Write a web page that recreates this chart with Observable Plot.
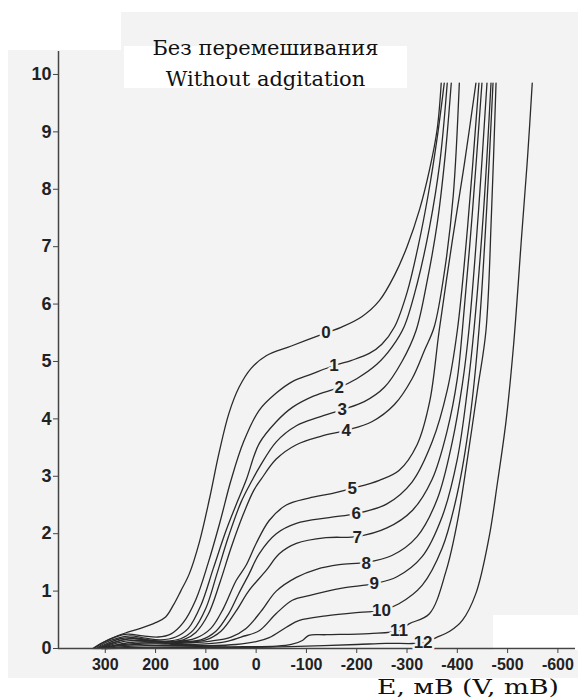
<!DOCTYPE html>
<html><head><meta charset="utf-8">
<script src="https://cdn.jsdelivr.net/npm/d3@7"></script>
<script src="https://cdn.jsdelivr.net/npm/@observablehq/plot@0.6"></script>
<style>
body{margin:0;background:#fff;}
#wrap{position:relative;width:578px;height:699px;overflow:hidden;background:#fff;}
.blk{position:absolute;}
.ttl{position:absolute;font-family:"DejaVu Serif",serif;font-size:21px;color:#111;white-space:nowrap;text-align:center;}
#chart{position:absolute;left:0;top:0;}
</style></head>
<body>
<div id="wrap">
  <div class="blk" style="left:8px;top:12px;width:570px;height:666px;background:#f3f3f3"></div>
  <div class="blk" style="left:0;top:0;width:121px;height:50px;background:#fff"></div>
  <div class="blk" style="left:124px;top:46px;width:283px;height:42px;background:#fff"></div>
  <div class="blk" style="left:493px;top:615px;width:85px;height:35px;background:#fff"></div>
  <div id="chart"></div>
  <div class="ttl" style="left:124px;width:283px;top:36px">Без перемешивания</div>
  <div class="ttl" style="left:124px;width:283px;top:67px">Without adgitation</div>
  <div class="ttl" style="left:368px;width:200px;top:677px;line-height:20px;font-size:20px;transform:scaleX(1.33);transform-origin:center">E, мВ (V, mB)</div>
</div>
<script>
// E (mV), current value
const curve0 = [[325,0],[310,0.08],[290,0.17],[260,0.27],[230,0.35],[200,0.45],[180,0.55],[165,0.75],[150,1.0],[133,1.3],[113,1.85],[93,2.6],[74,3.4],[54,4.1],[34,4.55],[10,4.88],[-20,5.1],[-70,5.27],[-139,5.5],[-170,5.6],[-210,5.78],[-245,6.06],[-275,6.5],[-300,7.0],[-325,7.65],[-345,8.35],[-360,9.05],[-368,9.85]];
const curve1 = [[322,0],[305,0.1],[280,0.2],[255,0.25],[225,0.22],[195,0.2],[170,0.25],[145,0.45],[120,0.85],[95,1.5],[72,2.2],[50,2.93],[25,3.6],[-6,4.15],[-40,4.45],[-72,4.65],[-110,4.78],[-155,4.93],[-190,5.02],[-225,5.14],[-250,5.3],[-275,5.6],[-300,6.2],[-322,7.0],[-342,7.9],[-360,8.9],[-374,9.85]];
const curve2 = [[318,0],[300,0.1],[275,0.18],[250,0.22],[220,0.18],[190,0.15],[160,0.2],[135,0.35],[110,0.75],[85,1.4],[60,2.05],[40,2.5],[20,2.93],[-6,3.57],[-40,3.95],[-72,4.2],[-115,4.4],[-165,4.55],[-200,4.7],[-240,4.95],[-270,5.25],[-294,5.6],[-320,6.35],[-345,7.35],[-365,8.45],[-380,9.85]];
const curve3 = [[316,0],[298,0.08],[270,0.17],[245,0.19],[215,0.15],[180,0.13],[150,0.17],[125,0.32],[100,0.7],[78,1.3],[55,1.95],[30,2.55],[8,2.93],[-6,3.15],[-40,3.6],[-80,3.88],[-125,4.03],[-171,4.16],[-215,4.3],[-255,4.55],[-290,5.0],[-318,5.54],[-340,6.4],[-360,7.4],[-376,8.6],[-388,9.85]];
const curve4 = [[314,0],[295,0.07],[265,0.15],[240,0.17],[210,0.13],[175,0.12],[145,0.15],[120,0.28],[95,0.6],[72,1.15],[50,1.75],[25,2.35],[5,2.75],[-10,2.95],[-40,3.3],[-80,3.55],[-130,3.7],[-179,3.8],[-230,3.95],[-275,4.25],[-310,4.7],[-335,5.2],[-354,5.6],[-375,6.6],[-392,7.9],[-404,9.85]];
const curve5 = [[312,0],[295,0.06],[265,0.15],[235,0.17],[200,0.13],[160,0.12],[120,0.18],[90,0.35],[65,0.7],[40,1.18],[20,1.45],[0,1.83],[-26,2.23],[-60,2.5],[-105,2.62],[-150,2.7],[-191,2.79],[-245,2.93],[-284,3.1],[-320,3.55],[-345,4.3],[-364,5.54],[-390,7.1],[-415,8.5],[-437,9.85]];
const curve6 = [[310,0],[290,0.06],[260,0.13],[230,0.14],[190,0.12],[150,0.12],[110,0.15],[80,0.3],[55,0.6],[35,0.95],[14,1.3],[-6,1.65],[-40,2.0],[-80,2.18],[-145,2.28],[-199,2.35],[-260,2.52],[-310,2.9],[-350,3.6],[-380,4.5],[-400,5.54],[-420,7.3],[-443,9.85]];
const curve7 = [[308,0],[285,0.05],[255,0.1],[220,0.12],[180,0.1],[140,0.11],[100,0.15],[70,0.3],[40,0.65],[15,1.0],[-20,1.36],[-46,1.65],[-80,1.83],[-139,1.93],[-201,1.95],[-260,2.1],[-310,2.4],[-350,2.95],[-380,3.8],[-400,4.7],[-410,5.54],[-430,7.6],[-449,9.85]];
const curve8 = [[306,0],[280,0.05],[250,0.08],[210,0.1],[170,0.09],[130,0.1],[90,0.13],[50,0.2],[20,0.35],[-10,0.65],[-40,1.0],[-80,1.24],[-120,1.38],[-165,1.46],[-219,1.5],[-270,1.62],[-320,1.95],[-360,2.6],[-390,3.6],[-410,4.6],[-423,5.54],[-442,7.6],[-459,9.85]];
const curve9 = [[305,0],[280,0.04],[240,0.07],[200,0.08],[150,0.07],[100,0.08],[60,0.12],[30,0.2],[-6,0.31],[-40,0.61],[-72,0.84],[-105,0.92],[-171,1.05],[-235,1.13],[-280,1.25],[-330,1.6],[-370,2.3],[-400,3.3],[-420,4.5],[-433,5.54],[-452,7.6],[-467,9.85]];
const curve10 = [[303,0],[270,0.03],[220,0.05],[160,0.05],[100,0.05],[40,0.07],[0,0.12],[-26,0.19],[-60,0.37],[-86,0.49],[-139,0.57],[-205,0.63],[-249,0.66],[-284,0.78],[-330,1.1],[-370,1.75],[-400,2.7],[-425,4.0],[-443,5.54],[-458,7.6],[-471,9.85]];
const curve11 = [[300,0],[250,0.02],[150,0.03],[50,0.03],[-40,0.04],[-70,0.07],[-92,0.14],[-105,0.23],[-139,0.24],[-225,0.26],[-284,0.31],[-304,0.43],[-344,0.6],[-378,1.36],[-400,2.2],[-420,3.3],[-440,4.5],[-457,5.54],[-468,7.6],[-477,9.85]];
const curve12 = [[300,0],[200,0.01],[100,0.02],[0,0.02],[-100,0.04],[-200,0.07],[-258,0.09],[-332,0.1],[-358,0.19],[-385,0.3],[-410,0.49],[-437,0.96],[-463,1.93],[-480,2.9],[-497,3.97],[-512,5.3],[-528,7.2],[-540,8.6],[-549,9.85]];

const curveNames = ["0","1","2","3","4","5","6","7","8","9","10","11","12"];
const curves = [curve0,curve1,curve2,curve3,curve4,curve5,curve6,curve7,curve8,curve9,curve10,curve11,curve12];
const labelE = [-139,-155,-165,-171,-179,-191,-199,-201,-219,-235,-249,-284,-332];
const labelV = [5.5,4.93,4.55,4.16,3.8,2.79,2.35,1.93,1.48,1.13,0.66,0.31,0.1];
const xTicks = [300,200,100,0,-100,-200,-300,-400,-500,-600];
const yTicks = [0,1,2,3,4,5,6,7,8,9,10];

const rows = [];
curves.forEach((c,i)=>c.forEach(([e,v])=>rows.push({E:e,I:v,k:curveNames[i]})));
const labels = curveNames.map((n,i)=>({E:labelE[i],I:labelV[i],t:n}));

const chart = Plot.plot({
  width:578, height:699,
  marginLeft:58, marginRight:3, marginTop:51, marginBottom:51,
  style:{background:"transparent", color:"#222"},
  x:{domain:[393,-635]},
  y:{domain:[0,10.4]},
  marks:[
    Plot.line(rows,{x:"E",y:"I",z:"k",curve:"catmull-rom",stroke:"#2a2a2a",strokeWidth:1.3}),
    Plot.ruleX([393],{stroke:"#444",strokeWidth:1.5}),
    Plot.ruleY([0],{stroke:"#444",strokeWidth:1.5}),
    Plot.axisY({ticks:yTicks,tickSize:5,tickPadding:2,fontSize:18,fontWeight:"bold",fontFamily:"Liberation Sans, Arial, sans-serif",label:null,stroke:"#444"}),
    Plot.axisX({ticks:xTicks,tickSize:5,tickPadding:5,fontSize:16,fontWeight:"bold",fontFamily:"Liberation Sans, Arial, sans-serif",tickFormat:d=>String(d),label:null,stroke:"#444"}),
    Plot.text(labels,{x:"E",y:"I",text:"t",fontSize:17,fontWeight:"bold",fontFamily:"Liberation Sans, Arial, sans-serif",fill:"#222",stroke:"#f3f3f3",strokeWidth:5})
  ]
});
document.getElementById("chart").appendChild(chart);
</script>
</body></html>
